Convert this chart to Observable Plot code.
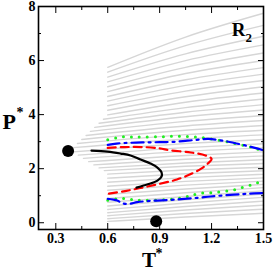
<!DOCTYPE html>
<html><head><meta charset="utf-8">
<script src="https://cdn.jsdelivr.net/npm/d3@7"></script>
<script src="https://cdn.jsdelivr.net/npm/@observablehq/plot@0.6"></script>
<style>body{margin:0;background:#fff} svg{display:block}</style>
</head><body><div id="chart"></div>
<script>
// Grey background lines: start T, P at start, P at T=1.05, P at T=1.5
const greyT0 = [0.6,0.6,0.6,0.6,0.6,0.6,0.6,0.6,0.6,0.6,0.6,
  0.575,0.55,0.525,0.5,0.475,0.45,0.425,0.4,
  0.4,0.43,0.46,0.49,0.52,0.55,0.58,
  0.6,0.6,0.6,0.6,0.6,0.6,0.6,0.6,0.6,0.6,0.6,0.6,0.6,0.6];
const greyP0 = [5.75,5.57,5.39,5.21,5.03,4.85,4.67,4.50,4.33,4.16,3.99,
  3.83,3.68,3.53,3.38,3.23,3.08,2.93,2.78,
  2.62,2.50,2.38,2.26,2.14,2.03,1.93,
  1.80,1.65,1.50,1.35,1.20,1.05,0.90,0.76,0.62,0.49,0.37,0.26,0.15,0.05];
const greyPmid = [6.87,6.55,6.25,6.00,5.75,5.52,5.29,5.08,4.87,4.66,4.46,
  4.26,4.09,3.92,3.75,3.58,3.42,3.26,3.10,
  2.93,2.78,2.64,2.49,2.35,2.21,2.09,
  1.95,1.81,1.67,1.53,1.39,1.25,1.11,0.97,0.85,0.73,0.60,0.47,0.34,0.21];
const greyP1 = [7.75,7.30,6.90,6.58,6.28,6.00,5.74,5.50,5.26,5.03,4.80,
  4.58,4.37,4.17,3.97,3.78,3.60,3.42,3.25,
  3.08,2.92,2.77,2.62,2.47,2.33,2.19,
  2.05,1.92,1.79,1.66,1.54,1.42,1.30,1.18,1.06,0.94,0.80,0.65,0.50,0.35];
const greyTmid = 1.05, greyTend = 1.5;

// Black solid curve
const blackT = [0.506,0.599,0.674,0.732,0.789,0.847,0.887,0.911,0.911,0.887,0.847,0.807,0.766];
const blackP = [2.67,2.63,2.56,2.49,2.34,2.19,2.04,1.86,1.71,1.56,1.45,1.38,1.30];
// Red dashed curve
const redT = [0.6,0.7,0.8,0.9,0.96,1.08,1.165,1.2,1.18,1.14,1.08,1.0,0.9,0.8,0.7,0.6];
const redP = [2.77,2.8,2.8,2.75,2.68,2.6,2.49,2.36,2.2,2.0,1.8,1.6,1.44,1.3,1.17,1.07];
// Blue dash-dot curves
const blueUpT = [0.6,0.65,0.7,0.8,0.9,1.0,1.1,1.18,1.25,1.32,1.4,1.45,1.5];
const blueUpP = [2.88,2.93,2.95,2.97,2.98,3.0,3.06,3.1,3.05,2.97,2.85,2.77,2.68];
const blueLoT = [0.6,0.655,0.684,0.722,0.77,0.828,0.886,1.0,1.117,1.194,1.328,1.406,1.5];
const blueLoP = [0.88,0.82,0.72,0.7,0.76,0.8,0.82,0.86,0.92,0.97,1.04,1.07,1.1];
// Green dotted curves
const greenUpT = [0.6,0.65,0.7,0.75,0.8,0.9,1.0,1.1,1.2,1.3,1.4,1.45,1.5];
const greenUpP = [3.07,3.14,3.19,3.17,3.17,3.18,3.2,3.18,3.1,2.98,2.84,2.76,2.62];
const greenLoT = [0.6,0.65,0.7,0.75,0.8,0.9,0.97,1.04,1.09,1.14,1.23,1.33,1.38,1.43,1.47];
const greenLoP = [0.83,0.88,0.9,0.85,0.83,0.84,0.87,0.94,1.03,1.09,1.13,1.22,1.31,1.4,1.49];
// Black dots
const dotT = [0.371, 0.88];
const dotP = [2.65, 0.055];

// Ticks
const xMajor = [0.3,0.6,0.9,1.2,1.5];
const xMinor = [0.45,0.75,1.05,1.35];
const yMajor = [0,2,4,6,8];
const yMinor = [1,3,5,7];

const grey = [];
greyT0.forEach((t0, i) => {
  grey.push({T: t0, P: greyP0[i], id: i});
  grey.push({T: greyTmid, P: greyPmid[i], id: i});
  grey.push({T: greyTend, P: greyP1[i], id: i});
});
const pts = (T, P) => T.map((t, i) => ({T: t, P: P[i]}));

const font = {fontFamily: "Liberation Serif", fontWeight: "bold"};
const blank = () => "";

const chart = Plot.plot({
  width: 273, height: 270,
  marginLeft: 38, marginRight: 10, marginTop: 6, marginBottom: 41,
  x: {domain: [0.2, 1.5]},
  y: {domain: [-0.25, 8]},
  style: {background: "#fff"},
  marks: [
    Plot.line(grey, {x: "T", y: "P", z: "id", stroke: "#d6d6d6", strokeWidth: 1.4, curve: "monotone-x"}),
    Plot.line(pts(greenUpT, greenUpP), {x: "T", y: "P", stroke: "#22ee22", strokeWidth: 3, strokeDasharray: "0,8", strokeLinecap: "round", curve: "catmull-rom"}),
    Plot.line(pts(greenLoT, greenLoP), {x: "T", y: "P", stroke: "#22ee22", strokeWidth: 3, strokeDasharray: "0,8", strokeLinecap: "round", curve: "catmull-rom"}),
    Plot.line(pts(blueUpT, blueUpP), {x: "T", y: "P", stroke: "#0000ff", strokeWidth: 2.2, strokeDasharray: "12,5,2,5", curve: "catmull-rom"}),
    Plot.line(pts(blueLoT, blueLoP), {x: "T", y: "P", stroke: "#0000ff", strokeWidth: 2.2, strokeDasharray: "12,5,2,5", curve: "catmull-rom"}),
    Plot.line(pts(redT, redP), {x: "T", y: "P", stroke: "#ff0000", strokeWidth: 2.2, strokeDasharray: "8,5", curve: "catmull-rom"}),
    Plot.line(pts(blackT, blackP), {x: "T", y: "P", stroke: "#000", strokeWidth: 2.2, curve: "catmull-rom"}),
    Plot.dot(pts(dotT, dotP), {x: "T", y: "P", r: 6, fill: "#000", stroke: null}),
    Plot.frame({strokeWidth: 1.6}),
    Plot.axisX({anchor: "bottom", ticks: xMajor, tickSize: -6, tickPadding: 10, tickFormat: d3.format(".1f"), label: null, fontSize: 14, ...font}),
    Plot.axisX({anchor: "bottom", ticks: xMinor, tickSize: -3, tickFormat: blank, label: null}),
    Plot.axisX({anchor: "top", ticks: xMajor, tickSize: -6, tickFormat: blank, label: null}),
    Plot.axisX({anchor: "top", ticks: xMinor, tickSize: -3, tickFormat: blank, label: null}),
    Plot.axisY({anchor: "left", ticks: yMajor, tickSize: -6, tickPadding: 9, tickFormat: d3.format("d"), label: null, fontSize: 14, ...font}),
    Plot.axisY({anchor: "left", ticks: yMinor, tickSize: -3, tickFormat: blank, label: null}),
    Plot.axisY({anchor: "right", ticks: yMajor, tickSize: -6, tickFormat: blank, label: null}),
    Plot.axisY({anchor: "right", ticks: yMinor, tickSize: -3, tickFormat: blank, label: null}),
    Plot.text(["P"], {frameAnchor: "left", textAnchor: "start", lineAnchor: "bottom", dx: -36, dy: 10.5, fontSize: 22, ...font}),
    Plot.text(["*"], {frameAnchor: "left", textAnchor: "start", lineAnchor: "bottom", dx: -22, dy: -1, fontSize: 14, ...font}),
    Plot.text(["T"], {frameAnchor: "bottom", textAnchor: "middle", lineAnchor: "bottom", dx: -2, dy: 37, fontSize: 21, ...font}),
    Plot.text(["*"], {frameAnchor: "bottom", textAnchor: "start", lineAnchor: "bottom", dx: 4.5, dy: 28, fontSize: 14, ...font}),
    Plot.text(["R"], {frameAnchor: "top-right", textAnchor: "end", lineAnchor: "bottom", dx: -18, dy: 29, fontSize: 19, ...font}),
    Plot.text(["2"], {frameAnchor: "top-right", textAnchor: "start", lineAnchor: "bottom", dx: -18, dy: 35.5, fontSize: 13, ...font})
  ]
});
document.getElementById("chart").appendChild(chart);
</script>
</body></html>
